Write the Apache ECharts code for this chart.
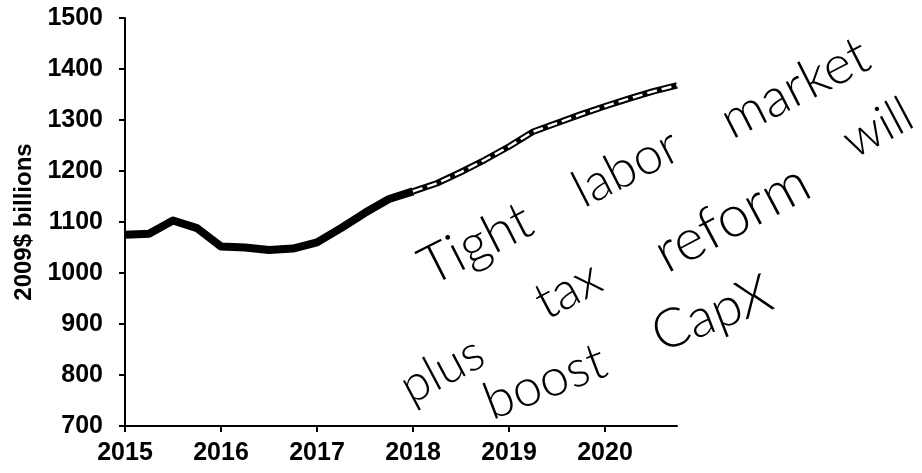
<!DOCTYPE html>
<html>
<head>
<meta charset="utf-8">
<script src="https://cdn.jsdelivr.net/npm/echarts@6/dist/echarts.min.js"></script>
<style>html,body{margin:0;padding:0;background:#fff}#c{width:922px;height:473px}</style>
</head>
<body>
<div id="c"></div>
<script>
// quarterly time points (year fractions)
const histX = [2015.00, 2015.25, 2015.50, 2015.75, 2016.00, 2016.25, 2016.50, 2016.75, 2017.00, 2017.25, 2017.50, 2017.75, 2018.00];
const histY = [1075, 1077, 1103, 1088, 1052, 1050, 1045, 1048, 1060, 1088, 1118, 1145, 1160];
const fcstX = [2018.00, 2018.25, 2018.50, 2018.75, 2019.00, 2019.25, 2019.50, 2019.75, 2020.00, 2020.25, 2020.50, 2020.75];
const fcstY = [1160, 1176, 1198, 1222, 1248, 1277, 1294, 1311, 1327, 1342, 1356, 1368];
const yearTicks = [2015, 2016, 2017, 2018, 2019, 2020];
const yAxisName = '2009$ billions';
const noteLines = [['Tight', 'labor', 'market'], ['plus', 'tax', 'reform', 'will'], ['boost', 'CapX']];

const hist = histX.map((x, i) => [x, histY[i]]);
const fcst = fcstX.map((x, i) => [x, fcstY[i]]);
const chart = echarts.init(document.getElementById('c'));
const lblFont = { color: '#000', fontFamily: 'Liberation Sans, Arial, sans-serif', fontWeight: 'bold', fontSize: 25 };
const hand = 'Lato, "Open Sans", sans-serif';

// layout of the handwritten words (centre x, centre y, font size)
const wordPos = [
  [[476, 244, 54], [626, 168, 52], [795, 88, 54]],
  [[442, 370, 50], [568, 290, 52], [732, 218, 58], [878, 128, 50]],
  [[545, 382, 52], [712, 314, 54]]
];
const lineAngle = [27, 28, 21];
const graphics = [];
noteLines.forEach((words, li) => {
  words.forEach((w, wi) => {
    const p = wordPos[li][wi];
    graphics.push({ type: 'text', x: p[0], y: p[1], rotation: lineAngle[li] * Math.PI / 180,
      style: { text: w, font: '300 ' + p[2] + 'px ' + hand, fill: '#000', textAlign: 'center', textVerticalAlign: 'middle' } });
  });
});

chart.setOption({
  animation: false,
  backgroundColor: '#fff',
  grid: { left: 125, right: 245, top: 18, bottom: 47, containLabel: false, outerBoundsMode: 'none' },
  xAxis: {
    type: 'value', min: 2015, max: 2020.75,
    axisLine: { lineStyle: { color: '#000', width: 2 } },
    axisTick: { show: true, length: 6, lineStyle: { color: '#000', width: 2 }, customValues: yearTicks },
    axisLabel: Object.assign({ margin: 15, customValues: yearTicks, formatter: v => String(v) }, lblFont),
    splitLine: { show: false }
  },
  yAxis: {
    type: 'value', min: 700, max: 1500, interval: 100,
    name: yAxisName, nameLocation: 'middle', nameGap: 89, nameRotate: 90,
    nameTextStyle: { color: '#000', fontFamily: 'Liberation Sans, Arial, sans-serif', fontWeight: 'bold', fontSize: 24 },
    axisLine: { show: true, lineStyle: { color: '#000', width: 2 } },
    axisTick: { show: true, length: 6, lineStyle: { color: '#000', width: 2 } },
    axisLabel: Object.assign({ margin: 22, formatter: v => String(v) }, lblFont),
    splitLine: { show: false }
  },
  series: [
    { type: 'line', data: hist, symbol: 'none', lineStyle: { color: '#000', width: 8, join: 'round', cap: 'butt' }, z: 3 },
    { type: 'line', data: fcst, symbol: 'none', lineStyle: { color: '#000', width: 6.5, join: 'round' }, z: 2 },
    { type: 'line', data: fcst, symbol: 'none', lineStyle: { color: '#fff', width: 2.5, type: [10, 5] }, z: 4 }
  ],
  graphic: graphics
});
</script>
</body>
</html>
